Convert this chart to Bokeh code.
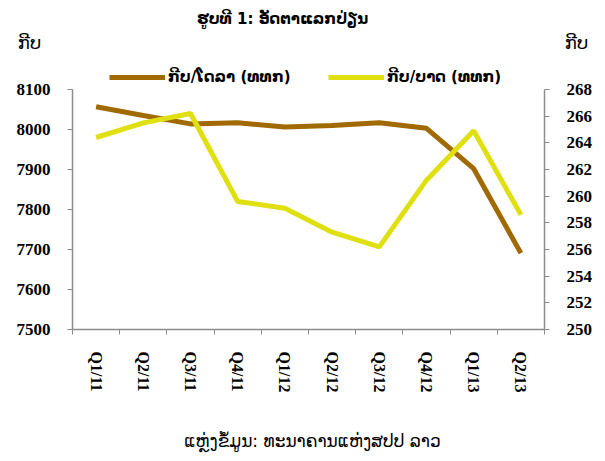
from bokeh.plotting import figure
from bokeh.layouts import column
from bokeh.models import (Range1d, LinearAxis, FixedTicker, Label, Legend, LegendItem)
from bokeh.embed import file_html
from bokeh.resources import INLINE

quarters = ["Q1/11", "Q2/11", "Q3/11", "Q4/11", "Q1/12", "Q2/12", "Q3/12", "Q4/12", "Q1/13", "Q2/13"]
kip_usd = [8057, 8035, 8014, 8017, 8006, 8010, 8017, 8003, 7902, 7691]
kip_thb = [264.4, 265.5, 266.2, 259.6, 259.1, 257.3, 256.2, 261.2, 264.9, 258.6]
left_ticks = [7500, 7600, 7700, 7800, 7900, 8000, 8100]
right_ticks = [250, 252, 254, 256, 258, 260, 262, 264, 266, 268]

title_text = "ຮູບທີ 1: ອັດຕາແລກປ່ຽນ"
unit_text = "ກີບ"
usd_label = "ກີບ/ໂດລາ (ທທກ)"
thb_label = "ກີບ/ບາດ (ທທກ)"
source_text = "ແຫຼ່ງຂໍ້ມູນ: ທະນາຄານແຫ່ງສປປ ລາວ"

BROWN = "#A06A00"
YELLOW = "#E0E010"
AXIS = "#8C8C8C"
SERIF = "Liberation Serif"
LAO = "DejaVu Sans"
W = 600


def no_align(f):
    if "frame_align" in f.properties():
        f.frame_align = False


def blank_fig(h):
    f = figure(width=W, height=h, output_backend="svg", toolbar_location=None,
               x_range=Range1d(0, W), y_range=Range1d(0, h),
               x_axis_location=None, y_axis_location=None, min_border=0)
    f.outline_line_color = None
    f.xgrid.visible = False
    f.ygrid.visible = False
    no_align(f)
    return f


def add_label(f, x, y, text, size, bold=False):
    f.add_layout(Label(x=x, y=y, text=text, text_font=LAO, text_font_size=size,
                       text_font_style="bold" if bold else "normal",
                       text_align="center", text_baseline="middle", text_color="black"))


# ---- header: title and unit labels
TOP_H = 56
top = blank_fig(TOP_H)
add_label(top, 282, TOP_H - 18, title_text, "15px", bold=True)
add_label(top, 29, TOP_H - 42, unit_text, "18px")
add_label(top, 576, TOP_H - 42, unit_text, "18px")

# ---- main chart (frame extends above the top tick to hold the legend)
FRAME_H = 273
AXIS_PX = 240          # pixels between lowest and highest tick
xs = list(range(len(quarters)))
l_span = left_ticks[-1] - left_ticks[0]
r_span = right_ticks[-1] - right_ticks[0]
p = figure(width=W, height=FRAME_H + 86, output_backend="svg", toolbar_location=None,
           x_range=Range1d(-0.5, len(quarters) - 0.5),
           y_range=Range1d(left_ticks[0], left_ticks[0] + l_span * FRAME_H / AXIS_PX),
           min_border_left=72, min_border_right=56, min_border_top=0, min_border_bottom=86)
p.extra_y_ranges = {"thb": Range1d(right_ticks[0], right_ticks[0] + r_span * FRAME_H / AXIS_PX)}
p.outline_line_color = None
p.xgrid.visible = False
p.ygrid.visible = False
no_align(p)

r1 = p.line(xs, kip_usd, line_color=BROWN, line_width=5)
r2 = p.line(xs, kip_thb, line_color=YELLOW, line_width=5, y_range_name="thb")

xa = p.xaxis[0]
xa.ticker = FixedTicker(ticks=xs, minor_ticks=[i - 0.5 for i in range(len(quarters) + 1)])
xa.major_label_overrides = {i: q for i, q in zip(xs, quarters)}
xa.major_tick_line_color = None
xa.minor_tick_line_color = AXIS
xa.minor_tick_out = 5
xa.minor_tick_in = 0
xa.axis_line_color = AXIS
xa.axis_line_width = 1.5
xa.major_label_orientation = "vertical"
xa.major_label_standoff = 16
xa.major_label_text_font = SERIF
xa.major_label_text_font_style = "bold"
xa.major_label_text_font_size = "16px"
xa.major_label_text_color = "black"


def style_y(ax, ticks):
    ax.ticker = FixedTicker(ticks=ticks)
    ax.bounds = (ticks[0], ticks[-1])
    ax.minor_tick_line_color = None
    ax.major_tick_line_color = AXIS
    ax.major_tick_out = 5
    ax.major_tick_in = 0
    ax.axis_line_color = AXIS
    ax.axis_line_width = 1.5
    ax.major_label_standoff = 17
    ax.major_label_text_font = SERIF
    ax.major_label_text_font_style = "bold"
    ax.major_label_text_font_size = "17px"
    ax.major_label_text_color = "black"


style_y(p.yaxis[0], left_ticks)
ra = LinearAxis(y_range_name="thb")
style_y(ra, right_ticks)
p.add_layout(ra, "right")

legend = Legend(items=[LegendItem(label=usd_label, renderers=[r1]),
                       LegendItem(label=thb_label, renderers=[r2])],
                orientation="horizontal", location=(37, FRAME_H - 31),
                glyph_width=56, glyph_height=20, label_standoff=3, label_width=125,
                label_height=20, spacing=35, padding=0, margin=0,
                border_line_color=None, background_fill_alpha=0,
                label_text_font=LAO, label_text_font_size="15px",
                label_text_font_style="bold", label_text_color="black")
p.add_layout(legend, "center")

# ---- footer: source
BOT_H = 43
bot = blank_fig(BOT_H)
add_label(bot, 312, BOT_H - 25, source_text, "17px")

layout = column(top, p, bot, spacing=0)
open("out.html", "w").write(file_html(layout, INLINE))
